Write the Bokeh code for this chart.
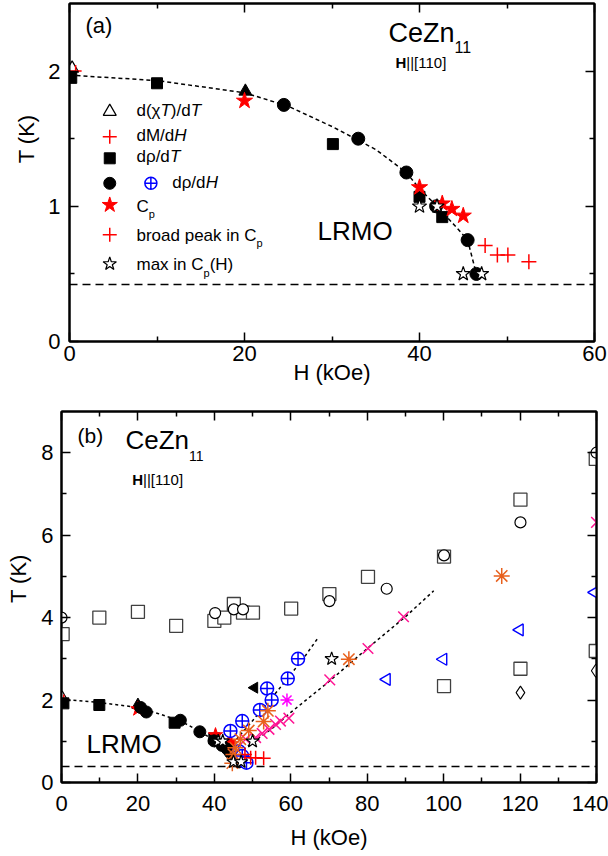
import numpy as np
from bokeh.plotting import figure
from bokeh.models import Range1d, FixedTicker, LinearAxis, Label
from bokeh.layouts import column
from bokeh.embed import file_html
from bokeh.resources import INLINE

FONT = "Liberation Sans"
NB = "\u00a0"

# ---------------- data: panel (a) ----------------
a_fit_H = [0, 10, 20, 25, 30, 35, 38.5, 40, 42, 44, 45.5, 46.5]
a_fit_T = [1.97, 1.93, 1.84, 1.74, 1.59, 1.42, 1.25, 1.13, 1.0, 0.86, 0.75, 0.5]
a_Tmin = [0.42]
a_dchiT_H = [0.3];  a_dchiT_T = [2.02]
a_trifill_H = [20.1]; a_trifill_T = [1.85]
a_dMdH_H = [0.7];   a_dMdH_T = [2.0]
a_drhodT_H = [0.2, 10.0, 30.1, 40.0, 42.6]
a_drhodT_T = [1.95, 1.91, 1.46, 1.07, 0.92]
a_drhodH_H = [24.5, 33.0, 38.5, 41.9, 45.5, 46.5]
a_drhodH_T = [1.75, 1.50, 1.25, 1.00, 0.75, 0.50]
a_Cp_H = [20.0, 40.0, 42.6, 43.7, 45.0]
a_Cp_T = [1.78, 1.14, 1.02, 0.98, 0.93]
a_broad_H = [47.5, 48.9, 50.1, 52.5]
a_broad_T = [0.71, 0.64, 0.64, 0.59]
a_maxCp_H = [40.0, 42.0, 45.0, 47.1]
a_maxCp_T = [1.0, 1.0, 0.5, 0.5]

# ---------------- data: panel (b) ----------------
b_fitA_H = [0, 10, 20, 25, 31, 36, 40, 43, 45, 46]
b_fitA_T = [2.02, 1.94, 1.82, 1.68, 1.5, 1.25, 1.02, 0.8, 0.6, 0.45]
b_fitB_H = [44.7, 50, 55, 60, 64, 67.3]
b_fitB_T = [0.93, 1.5, 2.05, 2.62, 3.1, 3.53]
b_fitC_H = [47.5, 55, 60, 70, 80, 90, 97.4]
b_fitC_T = [0.8, 1.3, 1.7, 2.45, 3.25, 4.02, 4.65]
b_Tmin = [0.38]
b_dchiT_H = [0.2];  b_dchiT_T = [2.05]
b_trifill_H = [20.0]; b_trifill_T = [1.88]
b_dMdH_H = [0.6];   b_dMdH_T = [2.0]
b_drhodT_H = [0.5, 9.9, 29.6, 40.0, 42.6]
b_drhodT_T = [1.92, 1.88, 1.45, 1.07, 0.92]
b_drhodH_H = [20.7, 22.2, 31.1, 36.2, 39.9, 42.0, 43.4, 44.2, 45.3, 46.5]
b_drhodH_T = [1.82, 1.71, 1.51, 1.23, 1.01, 0.90, 0.81, 0.72, 0.62, 0.50]
b_Cp_H = [20.0, 40.3, 43.8, 44.5]
b_Cp_T = [1.78, 1.15, 0.97, 0.93]
b_broad_H = [48.0, 49.5, 50.8, 52.9]
b_broad_T = [0.68, 0.60, 0.60, 0.59]
b_maxCp_H = [41.0, 42.2, 45.0, 47.0, 50.0, 70.7]
b_maxCp_T = [1.0, 1.0, 0.5, 0.5, 1.0, 3.0]
b_blue_H = [44.2, 47.3, 51.9, 53.8, 55.0, 59.2, 61.9, 46.4, 47.3, 48.4]
b_blue_T = [1.25, 1.49, 1.76, 2.28, 2.0, 2.52, 3.0, 0.76, 0.64, 0.48]
b_lefttri_fill_H = [50.5]; b_lefttri_fill_T = [2.3]
b_magenta_H = [59.0]; b_magenta_T = [2.0]
b_orange_H = [44.7, 45.0, 45.5, 46.8, 49.0, 52.9, 54.0, 75.2, 115.2]
b_orange_T = [0.47, 0.68, 0.84, 1.05, 1.26, 1.48, 1.74, 2.99, 5.01]
b_pink_H = [48.2, 50.8, 52.5, 54.3, 56.0, 57.3, 59.5, 70.2, 80.2, 89.5, 140.0]
b_pink_T = [1.05, 1.09, 1.19, 1.29, 1.41, 1.49, 1.56, 2.49, 3.25, 4.02, 6.31]
b_osq_H = [0.3, 9.9, 20.0, 30.0, 40.0, 42.6, 45.1, 47.5, 50.1, 60.1, 70.1, 80.2,
           100.1, 120.1, 139.8, 100.1, 120.1, 139.8]
b_osq_T = [3.6, 4.0, 4.14, 3.8, 3.92, 4.0, 4.33, 4.12, 4.12, 4.22, 4.57, 4.99,
           5.48, 6.86, 7.85, 2.34, 2.76, 3.19]
b_ocirc_H = [0.0, 40.2, 45.1, 47.5, 70.1, 85.1, 100.1, 120.1, 140.0]
b_ocirc_T = [4.0, 4.11, 4.2, 4.2, 4.4, 4.7, 5.51, 6.31, 8.0]
b_bluetri_H = [85.1, 99.9, 119.9, 139.5]
b_bluetri_T = [2.5, 2.99, 3.7, 4.61]
b_diam_H = [120.1, 139.8]
b_diam_T = [2.18, 2.71]

# legend key positions (layout, panel a data units)
LEG_H = 4.6
LEG_H2 = 9.3
LEG_T = [1.70, 1.515, 1.355, 1.17, 1.01, 0.79, 0.574]

RED = "#FF0000"; BLUE = "#0000FF"; ORANGE = "#E8601C"; PINK = "#FF1493"; MAG = "#FF00FF"

W = {' ': 278, '(': 333, ')': 333, '/': 278, '[': 278, ']': 278, '|': 260,
     'a': 556, 'b': 556, 'c': 500, 'd': 556, 'e': 556, 'i': 222, 'k': 500, 'm': 833,
     'n': 556, 'o': 556, 'p': 556, 'r': 333, 'x': 500, 'C': 722, 'H': 722, 'K': 667,
     'L': 556, 'M': 833, 'O': 778, 'R': 722, 'T': 611, 'Z': 611, 'χ': 520, 'ρ': 578}


def tw(s, px):
    return sum(W.get(c, 556) for c in s) * px / 1000.0


def rich(p, x, y, segs):
    off = 0.0
    for s, px, style, dy in segs:
        p.add_layout(Label(x=x, y=y, x_units="screen", y_units="screen", text=s,
                           text_font=FONT, text_font_size=f"{px}px", text_font_style=style,
                           text_color="black", text_baseline="alphabetic", text_align="left",
                           x_offset=off, y_offset=dy + 0.35 * px))
        off += tw(s, px)


def style_axis(ax, ticks, minor, labels=True, standoff=6):
    ax.ticker = FixedTicker(ticks=ticks, minor_ticks=minor)
    ax.major_tick_in = 9
    ax.major_tick_out = 0
    ax.minor_tick_in = 5
    ax.minor_tick_out = 0
    ax.axis_line_width = 2
    ax.major_tick_line_width = 1.5
    ax.minor_tick_line_width = 1.5
    ax.axis_line_color = "black"
    ax.major_tick_line_color = "black"
    ax.minor_tick_line_color = "black"
    if labels:
        ax.major_label_text_font = FONT
        ax.major_label_text_font_size = "22px"
        ax.major_label_text_color = "black"
        ax.major_label_standoff = standoff
    else:
        ax.major_label_text_font_size = "1px"
        ax.major_label_text_color = None
        ax.major_label_standoff = 0
        ax.axis_label = None


def axis_title(ax, text, standoff):
    ax.axis_label = text
    ax.axis_label_text_font = FONT
    ax.axis_label_text_font_size = "22px"
    ax.axis_label_text_font_style = "normal"
    ax.axis_label_text_color = "black"
    ax.axis_label_standoff = standoff


def make_fig(h, xr, yr, xt, xm, yt, ym, borders, xs, ys, xlabel, xls, ylabel, yls):
    p = figure(width=608, height=h, x_range=Range1d(*xr), y_range=Range1d(*yr),
               output_backend="svg", toolbar_location=None)
    if "frame_align" in p.properties():
        p.frame_align = False
    p.min_border_left, p.min_border_right, p.min_border_top, p.min_border_bottom = borders
    p.xgrid.visible = False
    p.ygrid.visible = False
    p.outline_line_color = "black"
    p.outline_line_width = 2
    p.background_fill_color = "white"
    p.border_fill_color = "white"
    xb = p.below[0]
    yl = p.left[0]
    style_axis(xb, xt, xm, True, xs)
    style_axis(yl, yt, ym, True, ys)
    axis_title(xb, xlabel, xls)
    axis_title(yl, ylabel, yls)
    ta = LinearAxis(); style_axis(ta, xt, xm, False); p.add_layout(ta, "above")
    ra = LinearAxis(); style_axis(ra, yt, ym, False); p.add_layout(ra, "right")
    return p


def open_marker(p, x, y, marker, size, color="black", lw=1.2, angle=0.0):
    p.scatter(x, y, marker=marker, size=size, fill_color="white", line_color=color,
              line_width=lw, angle=angle)


# ================= panel (a) =================
pa = make_fig(390, (0, 60), (0, 2.5), [0, 20, 40, 60], [10, 30, 50],
              [0, 1, 2], [0.5, 1.5], (69, 14, 3, 49), 4, 9,
              "H (kOe)", -4, NB * 11 + "T (K)", 6)
pa.hspan(y=a_Tmin, line_color="black", line_dash="8 5", line_width=1.5)
pa.line(a_fit_H, a_fit_T, line_color="black", line_dash="4 3", line_width=1.5)
open_marker(pa, a_dchiT_H, a_dchiT_T, "triangle", 13)
pa.scatter(a_dMdH_H, a_dMdH_T, marker="cross", size=12, line_color=RED, line_width=1.5)
pa.scatter(a_drhodT_H, a_drhodT_T, marker="square", size=11, color="black")
pa.scatter(a_trifill_H, a_trifill_T, marker="triangle", size=13, color="black")
pa.scatter(a_drhodH_H, a_drhodH_T, marker="circle", size=13, color="black")
pa.scatter(a_Cp_H, a_Cp_T, marker="star", size=17, color=RED)
pa.scatter(a_broad_H, a_broad_T, marker="cross", size=15, line_color=RED, line_width=1.5)
open_marker(pa, a_maxCp_H, a_maxCp_T, "star", 15)

# legend keys
open_marker(pa, [LEG_H], [LEG_T[0]], "triangle", 13)
pa.scatter([LEG_H], [LEG_T[1]], marker="cross", size=14, line_color=RED, line_width=1.5)
pa.scatter([LEG_H], [LEG_T[2]], marker="square", size=11, color="black")
pa.scatter([LEG_H], [LEG_T[3]], marker="circle", size=12, color="black")
pa.scatter([LEG_H2], [LEG_T[3]], marker="circle_cross", size=12, fill_color="white",
           line_color=BLUE, line_width=1.5)
pa.scatter([LEG_H], [LEG_T[4]], marker="star", size=16, color=RED)
pa.scatter([LEG_H], [LEG_T[5]], marker="cross", size=14, line_color=RED, line_width=1.5)
open_marker(pa, [LEG_H], [LEG_T[6]], "star", 14)

LF = 17
SUB = 11
rich(pa, 67, 225, [("d(", LF, "normal", 0), ("χ", LF, "normal", 0), ("T", LF, "italic", 0),
                   (")/d", LF, "normal", 0), ("T", LF, "italic", 0)])
rich(pa, 67, 200.5, [("dM/d", LF, "normal", 0), ("H", LF, "italic", 0)])
rich(pa, 67, 179, [("dρ/d", LF, "normal", 0), ("T", LF, "italic", 0)])
rich(pa, 102.7, 153, [("dρ/d", LF, "normal", 0), ("H", LF, "italic", 0)])
rich(pa, 67, 129.5, [("C", LF, "normal", 0), ("p", SUB, "normal", -6)])
rich(pa, 67, 100.5, [("broad peak in C", LF, "normal", 0), ("p", SUB, "normal", -6)])
rich(pa, 67, 71, [("max in C", LF, "normal", 0), ("p", SUB, "normal", -6),
                  ("(H)", LF, "normal", 0)])

rich(pa, 16, 308, [("(a)", 22, "normal", 0)])
rich(pa, 319, 299, [("CeZn", 27, "normal", 0), ("11", 16, "normal", -10)])
rich(pa, 326, 274, [("H", 15, "bold", 0), ("||[110]", 15, "normal", 0)])
rich(pa, 248, 101, [("LRMO", 26, "normal", 0)])

# ================= panel (b) =================
pb = make_fig(466, (0, 140), (0, 9), list(range(0, 141, 20)), list(range(10, 140, 20)),
              [0, 2, 4, 6, 8], [1, 3, 5, 7], (61, 12, 21, 74), 13, 8,
              "H (kOe)", 11, NB * 6 + "T (K)", 7)
pb.hspan(y=b_Tmin, line_color="black", line_dash="8 5", line_width=1.5)
open_marker(pb, b_osq_H, b_osq_T, "square", 13, color="#404040", lw=1.3)
open_marker(pb, b_ocirc_H, b_ocirc_T, "circle", 11, lw=1.2)
open_marker(pb, b_diam_H, b_diam_T, "diamond", 13, lw=1.1)
open_marker(pb, b_bluetri_H, b_bluetri_T, "triangle", 12, color=BLUE, lw=1.4, angle=np.pi / 2)
pb.line(b_fitA_H, b_fitA_T, line_color="black", line_dash="3 3", line_width=1.5)
pb.line(b_fitB_H, b_fitB_T, line_color="black", line_dash="3 3", line_width=1.5)
pb.line(b_fitC_H, b_fitC_T, line_color="black", line_dash="3 3", line_width=1.5)
open_marker(pb, b_dchiT_H, b_dchiT_T, "triangle", 12)
pb.scatter(b_dMdH_H, b_dMdH_T, marker="cross", size=11, line_color=RED, line_width=1.5)
pb.scatter(b_drhodT_H, b_drhodT_T, marker="square", size=11, color="black")
pb.scatter(b_trifill_H, b_trifill_T, marker="triangle", size=12, color="black")
pb.scatter(b_Cp_H, b_Cp_T, marker="star", size=15, color=RED)
pb.scatter(b_drhodH_H, b_drhodH_T, marker="circle", size=12, color="black")
pb.scatter(b_lefttri_fill_H, b_lefttri_fill_T, marker="triangle", size=11, color="black",
           angle=np.pi / 2)
pb.scatter(b_blue_H, b_blue_T, marker="circle_cross", size=13, fill_color="white",
           line_color=BLUE, line_width=1.5)
pb.scatter(b_broad_H, b_broad_T, marker="cross", size=14, line_color=RED, line_width=1.5)
pb.scatter(b_pink_H, b_pink_T, marker="x", size=15, line_color=PINK, line_width=1.5)
pb.scatter(b_orange_H, b_orange_T, marker="asterisk", size=16, line_color=ORANGE, line_width=1.5)
pb.scatter(b_magenta_H, b_magenta_T, marker="asterisk", size=13, line_color=MAG, line_width=1.5)
open_marker(pb, b_maxCp_H, b_maxCp_T, "star", 14)

rich(pb, 16, 340, [("(b)", 21, "normal", 0)])
rich(pb, 64, 333, [("CeZn", 26, "normal", 0), ("11", 14, "normal", -11)])
rich(pb, 70.7, 298, [("H", 15, "bold", 0), ("||[110]", 15, "normal", 0)])
rich(pb, 25, 29, [("LRMO", 26, "normal", 0)])

layout = column(pa, pb, spacing=0)
open("out.html", "w").write(file_html(layout, INLINE))
